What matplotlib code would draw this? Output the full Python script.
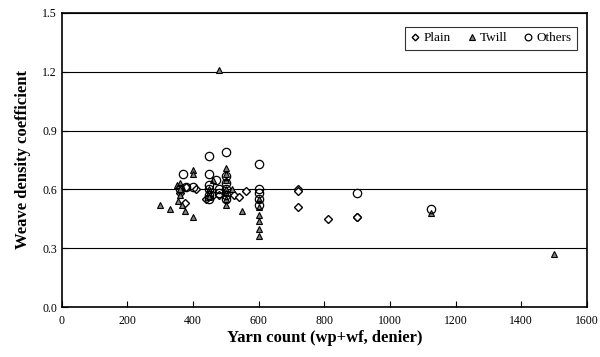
import numpy as np
import matplotlib
matplotlib.use('Agg')
import matplotlib.pyplot as plt

plt.rc('font', family='Liberation Serif')

# plain weave
plain_x = [360, 375, 380, 410, 440, 460, 480, 525, 540, 560, 720, 720, 720, 810, 900, 900]
plain_y = [0.58, 0.53, 0.61, 0.60, 0.55, 0.57, 0.57, 0.57, 0.56, 0.59, 0.60, 0.59, 0.51, 0.45, 0.46, 0.46]

# twill weave
twill_x = [300, 330, 350, 360, 360, 360, 355, 365, 375, 400, 400, 400, 450, 450, 450, 460,
           480, 500, 500, 500, 500, 500, 500, 500, 520, 550,
           600, 600, 600, 600, 600, 600, 1125, 1500]
twill_y = [0.52, 0.50, 0.62, 0.63, 0.60, 0.57, 0.54, 0.52, 0.49, 0.70, 0.68, 0.46, 0.60, 0.58, 0.56, 0.65,
           1.21, 0.71, 0.68, 0.65, 0.60, 0.58, 0.55, 0.52, 0.60, 0.49,
           0.55, 0.51, 0.47, 0.44, 0.40, 0.36, 0.48, 0.27]

# other weaves
other_x = [370, 360, 380, 400, 450, 450, 450, 450, 450, 450, 470, 480, 480,
           500, 500, 500, 500, 500, 500, 600, 600, 600, 600, 600, 900, 1125]
other_y = [0.68, 0.60, 0.61, 0.61, 0.77, 0.68, 0.62, 0.60, 0.57, 0.55, 0.65, 0.60, 0.58,
           0.79, 0.67, 0.63, 0.60, 0.57, 0.55, 0.73, 0.60, 0.58, 0.55, 0.52, 0.58, 0.50]

fig = plt.figure(figsize=(6, 3.57), dpi=100)
ax = fig.add_axes([0.103, 0.140, 0.875, 0.824])

ax.yaxis.grid(True, color='black', linewidth=0.8)
ax.set_axisbelow(True)

ax.plot(plain_x, plain_y, 'D', ms=4.2, mfc='white', mec='black', mew=1.0, label='Plain', zorder=3)
ax.plot(twill_x, twill_y, '^', ms=5, mfc='#808080', mec='black', mew=0.8, label='Twill', zorder=3)
ax.plot(other_x, other_y, 'o', ms=6, mfc='none', mec='black', mew=0.9, label='Others', zorder=3)

ax.set_xlim(0, 1600)
ax.set_ylim(0, 1.5)
ax.set_xticks(np.arange(0, 1601, 200))
ax.set_yticks(np.arange(0, 1.51, 0.3))
ax.set_yticklabels(['%.1f' % v for v in np.arange(0, 1.51, 0.3)])
ax.tick_params(direction='in', labelsize=8.5, length=4, width=0.8)
ax.tick_params(axis='x', pad=6)
for s in ax.spines.values():
    s.set_linewidth(1.2)

ax.set_xlabel('Yarn count (wp+wf, denier)', fontsize=12, fontweight='bold', labelpad=2)
ax.set_ylabel('Weave density coefficient', fontsize=12, fontweight='bold', labelpad=8)

leg = ax.legend(loc='upper right', ncol=3, fontsize=9.5, frameon=True, fancybox=False,
                edgecolor='black', handletextpad=0.2, columnspacing=1.2,
                handlelength=0.8, borderpad=0.4, markerscale=0.8,
                bbox_to_anchor=(0.993, 0.975))
leg.get_frame().set_linewidth(0.8)

plt.savefig('out.png', dpi=100)
